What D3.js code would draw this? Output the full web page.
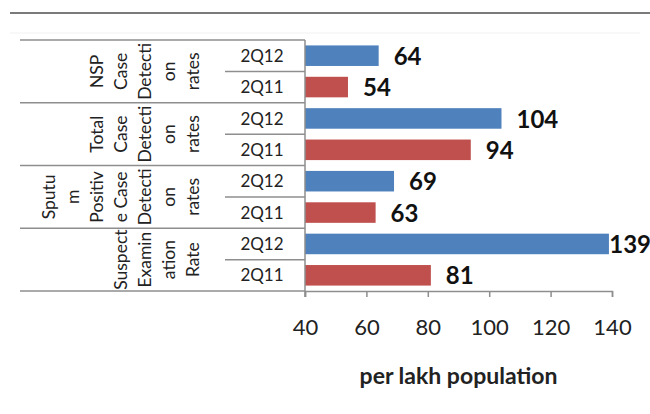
<!DOCTYPE html>
<html>
<head>
<meta charset="utf-8">
<script src="https://cdn.jsdelivr.net/npm/d3@7"></script>
<style>
  html, body { margin: 0; padding: 0; background: #fff; }
  svg { display: block; font-family: Lato, "Open Sans", sans-serif; }
</style>
</head>
<body>
<svg id="chart" width="650" height="414"></svg>
<script>
// ---- data ----
const groupLabelLines = [
  ["NSP", "Case", "Detecti", "on", "rates"],
  ["Total", "Case", "Detecti", "on", "rates"],
  ["Sputu", "m", "Positiv", "e Case", "Detecti", "on", "rates"],
  ["Suspect", "Examin", "ation", "Rate"]
];
const periods = ["2Q12", "2Q11"];
const values2Q12 = [64, 104, 69, 139];
const values2Q11 = [54, 94, 63, 81];
const xTicks = [40, 60, 80, 100, 120, 140];
const xTitle = "per lakh population";

// ---- layout ----
const W = 650, H = 414;
const plot = { left: 305, right: 612, top: 40, bottom: 291 };
const colors = { "2Q12": "#4F81BD", "2Q11": "#C0504D" };
const gridColor = "#8e8e8e";

const rows = [];
groupLabelLines.forEach((g, gi) => {
  rows.push({ group: gi, period: periods[0], value: values2Q12[gi] });
  rows.push({ group: gi, period: periods[1], value: values2Q11[gi] });
});

const svg = d3.select("#chart");

const x = d3.scaleLinear().domain([40, 140]).range([plot.left, plot.right]);
const y = d3.scaleBand().domain(d3.range(rows.length)).range([plot.top, plot.bottom])
  .paddingInner(0.345).paddingOuter(0.1725);
const step = y.step();
const groupTop = gi => plot.top + gi * 2 * step;

// document rule line at top
svg.append("line").attr("x1", 10).attr("x2", 650).attr("y1", 13).attr("y2", 13)
  .attr("stroke", "#7a7a7a").attr("stroke-width", 2);
svg.append("line").attr("x1", 10).attr("x2", 640).attr("y1", 33).attr("y2", 33)
  .attr("stroke", "#f1f1f1").attr("stroke-width", 1);

// category axis lines
const catG = svg.append("g");
groupLabelLines.forEach((g, gi) => {
  catG.append("line").attr("x1", 20).attr("x2", plot.left)
    .attr("y1", groupTop(gi)).attr("y2", groupTop(gi))
    .attr("stroke", gridColor).attr("stroke-width", 1.5);
  const mid = groupTop(gi) + step;
  catG.append("line").attr("x1", 225).attr("x2", plot.left)
    .attr("y1", mid).attr("y2", mid)
    .attr("stroke", gridColor).attr("stroke-width", 1.5);
});
catG.append("line").attr("x1", 20).attr("x2", plot.left)
  .attr("y1", plot.bottom).attr("y2", plot.bottom)
  .attr("stroke", gridColor).attr("stroke-width", 1.5);

// bars
svg.append("g").selectAll("rect").data(rows).join("rect")
  .attr("x", x(40))
  .attr("y", (d, i) => y(i))
  .attr("width", d => x(d.value) - x(40))
  .attr("height", y.bandwidth())
  .attr("fill", d => colors[d.period]);

// vertical axis line
svg.append("line").attr("x1", plot.left).attr("x2", plot.left)
  .attr("y1", plot.top).attr("y2", plot.bottom + 6)
  .attr("stroke", gridColor).attr("stroke-width", 1.5);

// x axis
const xAxis = d3.axisBottom(x).tickValues(xTicks).tickSize(6).tickPadding(22).tickFormat(d3.format("d"));
const xg = svg.append("g").attr("transform", `translate(0,${plot.bottom})`).call(xAxis);
xg.select(".domain").attr("stroke", gridColor).attr("stroke-width", 1.5);
xg.selectAll(".tick line").attr("stroke", gridColor).attr("stroke-width", 1.5);
xg.selectAll(".tick text").attr("font-size", 22).attr("fill", "#222")
  .attr("font-family", "Lato, 'Open Sans', sans-serif");

// period labels
svg.append("g").selectAll("text").data(rows).join("text")
  .attr("x", 262)
  .attr("y", (d, i) => y(i) + y.bandwidth() / 2)
  .attr("dy", "0.36em")
  .attr("text-anchor", "middle")
  .attr("font-size", 17)
  .attr("fill", "#222")
  .text(d => d.period);

// group labels (rotated, wrapped)
groupLabelLines.forEach((lines, gi) => {
  const cy = groupTop(gi) + step;
  const n = lines.length;
  lines.forEach((ln, li) => {
    const cx = 193 - (n - 1 - li) * 24;
    svg.append("text")
      .attr("transform", `translate(${cx},${cy}) rotate(-90)`)
      .attr("text-anchor", "middle")
      .attr("dy", "0.36em")
      .attr("font-size", 17.5)
      .attr("fill", "#222")
      .text(ln);
  });
});

// value labels
const vl = svg.append("g").selectAll("text").data(rows).join("text")
  .attr("y", (d, i) => y(i) + y.bandwidth() / 2)
  .attr("dy", "0.38em")
  .attr("font-size", 24)
  .attr("font-weight", "bold")
  .attr("fill", "#111")
  .text(d => d.value);
vl.each(function (d) {
  const w = this.getComputedTextLength();
  d3.select(this).attr("x", Math.min(x(d.value) + 15, W + 1 - w));
});

// axis title
svg.append("text")
  .attr("x", (plot.left + plot.right) / 2)
  .attr("y", 384)
  .attr("text-anchor", "middle")
  .attr("font-size", 23)
  .attr("font-weight", "bold")
  .attr("fill", "#222")
  .text(xTitle);
</script>
</body>
</html>
